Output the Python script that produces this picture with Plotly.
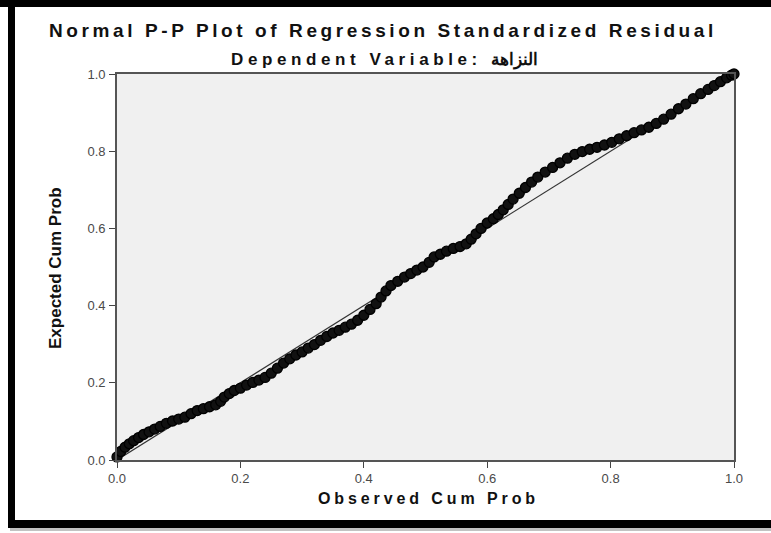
import plotly.graph_objects as go

# Observed vs expected cumulative probabilities
observed = [0.000, 0.006, 0.013, 0.020, 0.027, 0.035, 0.043, 0.052, 0.061, 0.070,
            0.080, 0.090, 0.100, 0.110, 0.120, 0.130, 0.140, 0.150, 0.160, 0.168,
            0.174, 0.182, 0.190, 0.200, 0.210, 0.220, 0.230, 0.240, 0.250, 0.260,
            0.270, 0.280, 0.290, 0.300, 0.310, 0.320, 0.330, 0.340, 0.350, 0.360,
            0.370, 0.380, 0.390, 0.400, 0.410, 0.420, 0.428, 0.436, 0.444, 0.455,
            0.466, 0.476, 0.486, 0.496, 0.506, 0.514, 0.524, 0.534, 0.545, 0.556,
            0.566, 0.574, 0.582, 0.590, 0.600, 0.610, 0.618, 0.626, 0.634, 0.642,
            0.652, 0.662, 0.672, 0.682, 0.694, 0.706, 0.718, 0.730, 0.742, 0.754,
            0.766, 0.778, 0.790, 0.802, 0.814, 0.826, 0.838, 0.850, 0.862, 0.874,
            0.886, 0.898, 0.910, 0.922, 0.934, 0.946, 0.958, 0.968, 0.978, 0.988,
            0.996, 1.000]
expected = [0.008, 0.022, 0.033, 0.042, 0.050, 0.058, 0.066, 0.073, 0.080, 0.087,
            0.095, 0.101, 0.106, 0.111, 0.120, 0.128, 0.133, 0.138, 0.143, 0.152,
            0.163, 0.172, 0.180, 0.186, 0.194, 0.201, 0.207, 0.214, 0.225, 0.238,
            0.251, 0.262, 0.272, 0.280, 0.290, 0.299, 0.310, 0.320, 0.329, 0.336,
            0.344, 0.352, 0.362, 0.375, 0.390, 0.405, 0.422, 0.438, 0.452, 0.463,
            0.474, 0.483, 0.492, 0.500, 0.512, 0.526, 0.533, 0.541, 0.548, 0.553,
            0.560, 0.572, 0.586, 0.600, 0.614, 0.625, 0.636, 0.648, 0.662, 0.676,
            0.691, 0.706, 0.720, 0.733, 0.746, 0.758, 0.770, 0.782, 0.792, 0.799,
            0.805, 0.810, 0.816, 0.823, 0.832, 0.840, 0.848, 0.855, 0.862, 0.872,
            0.883, 0.896, 0.910, 0.922, 0.936, 0.949, 0.960, 0.970, 0.980, 0.990,
            0.997, 1.000]

ref_line = [0.0, 1.0]
tick_vals = [0.0, 0.2, 0.4, 0.6, 0.8, 1.0]
tick_text = ["0.0", "0.2", "0.4", "0.6", "0.8", "1.0"]

title_text = "Normal P-P Plot of Regression Standardized Residual"
subtitle_latin = "Dependent Variable: "
subtitle_arabic = "النزاهة"
x_title = "Observed Cum Prob"
y_title = "Expected Cum Prob"

W, H = 771, 533
L, R, T, B = 117, 37, 74, 73
pw, ph = W - L - R, H - T - B
FONT = "Liberation Sans, Arial, sans-serif"


def px(xp):
    return (xp - L) / pw


def py(yp):
    return (H - B - yp) / ph


def spaced(text, sp):
    return '<span style="letter-spacing:%spx">%s</span>' % (sp, text)


fig = go.Figure()
fig.add_trace(go.Scatter(x=ref_line, y=ref_line, mode="lines",
                         line=dict(color="#333333", width=1.2),
                         hoverinfo="skip", showlegend=False))
fig.add_trace(go.Scatter(x=observed, y=expected, mode="markers",
                         marker=dict(symbol="circle", size=10, color="#111111",
                                     line=dict(color="#000000", width=1.3)),
                         cliponaxis=False, showlegend=False))

axis_common = dict(range=[0, 1], tickmode="array", tickvals=tick_vals, ticktext=tick_text,
                   showgrid=False, zeroline=False, showline=True, mirror=True,
                   linecolor="#555555", linewidth=1.6, ticks="outside", ticklen=6,
                   tickwidth=1.4, tickcolor="#444444",
                   tickfont=dict(family=FONT, size=13, color="#4a4a4a"))

# black paper: white areas are painted on top, leaving the black frame bands
fig.update_layout(
    width=W, height=H,
    margin=dict(l=L, r=R, t=T, b=B),
    paper_bgcolor="black",
    plot_bgcolor="#F0F0F0",
    xaxis=dict(**axis_common),
    yaxis=dict(**axis_common, ticklabelstandoff=1),
    showlegend=False,
)

white_areas = [
    (0, 7, 8, H),        # left margin outside the frame
    (15, 7, W, 520),     # inside the frame
    (8, 528, W, H),      # below the frame
]
for x0, y0, x1, y1 in white_areas:
    fig.add_shape(type="rect", xref="paper", yref="paper",
                  x0=px(x0), x1=px(x1), y0=py(y0), y1=py(y1),
                  fillcolor="white", line=dict(width=0), layer="below")
fig.add_shape(type="rect", xref="paper", yref="paper",
              x0=px(10), x1=px(W), y0=py(528), y1=py(531),
              fillcolor="#9a9a9a", opacity=0.6, line=dict(width=0), layer="below")
# plot-area background over the white layer
fig.add_shape(type="rect", xref="paper", yref="paper", x0=0, x1=1, y0=0, y1=1,
              fillcolor="#F0F0F0", line=dict(width=0), layer="below")

fig.add_annotation(text="<b>" + spaced(title_text, 3.6) + "</b>",
                   xref="paper", yref="paper",
                   x=px(383), y=py(30), xanchor="center", yanchor="middle", showarrow=False,
                   font=dict(family=FONT, size=19, color="#111111"))
fig.add_annotation(text="<b>" + spaced(subtitle_latin, 4.6) + subtitle_arabic + "</b>",
                   xref="paper", yref="paper",
                   x=px(384), y=py(60), xanchor="center", yanchor="middle", showarrow=False,
                   font=dict(family=FONT, size=17, color="#111111"))
fig.add_annotation(text="<b>" + spaced(x_title, 3.9) + "</b>", xref="paper", yref="paper",
                   x=px(428), y=py(499), xanchor="center", yanchor="middle", showarrow=False,
                   font=dict(family=FONT, size=16, color="#111111"))
fig.add_annotation(text="<b>" + y_title + "</b>", xref="paper", yref="paper",
                   x=px(55), y=py(268), xanchor="center", yanchor="middle", showarrow=False,
                   textangle=-90,
                   font=dict(family="Liberation Sans Narrow, Liberation Sans, Arial Narrow, sans-serif",
                             size=17, color="#111111"))

fig.write_html("out.html", config={"displayModeBar": False},
               post_script="document.body.style.margin='0';document.body.style.overflow='hidden';")
